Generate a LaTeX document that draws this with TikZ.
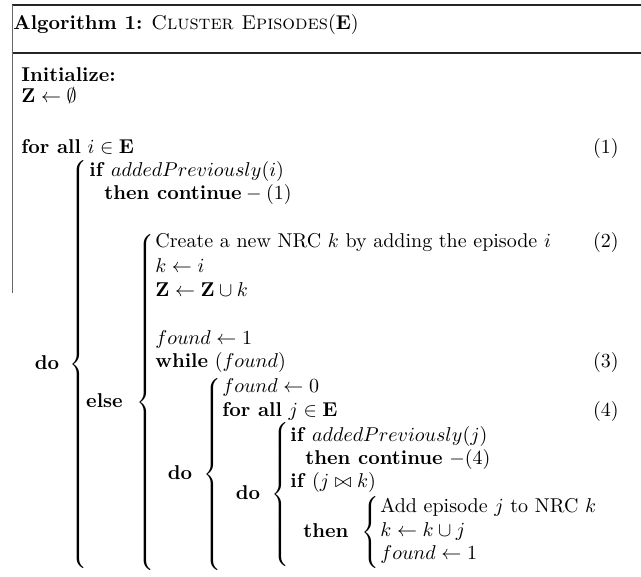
\documentclass[tikz,border=0pt]{standalone}
\delimiterfactor=1000
\delimitershortfall=0pt
\newcommand{\bigbrace}[1]{$\left\{\vcenter{\hbox{\rule{0pt}{#1pt}}}\right.$}
\tikzset{
  txt/.style={anchor=base west, inner sep=0pt},
  num/.style={anchor=base east, inner sep=0pt},
  lbl/.style={anchor=base, inner sep=0pt},
  brc/.style={anchor=east, inner sep=0pt},
  frame/.style={line width=1.6pt, draw=black!85},
  side/.style={line width=0.9pt, draw=black!60}
}
\begin{document}
\begin{tikzpicture}[x=1pt,y=-1pt]
\useasboundingbox (0,0) rectangle (641,577);
% frame lines
\coordinate (tl) at (12,5);
\coordinate (tr) at (641,5);
\coordinate (ml) at (12,53);
\coordinate (mr) at (641,53);
\coordinate (bl) at (12,293);
\draw[frame] (tl) -- (tr);
\draw[frame, line width=1.3pt] (ml) -- (mr);
\draw[side] (tl) -- (bl);
\begin{scope}[scale=2, x=0.5pt, y=-0.5pt, every node/.append style={transform shape}]
% header
\node[txt] (hdr) at (13,30) {\textbf{Algorithm 1:} \textsc{Cluster Episodes}($\mathbf{E}$)};
\node[txt] (init) at (21,82) {\textbf{Initialize:}};
\node[txt] (z0) at (21,103) {$\mathbf{Z}\leftarrow\emptyset$};
\node[txt] (fa) at (21,154) {\textbf{for all} $i\in\mathbf{E}$};
\node[num] (n1) at (619,154) {(1)};
% level 1
\node[brc] (b1) at (90,365) {\bigbrace{200}};
\node[lbl] (do1) at (47,370) {\textbf{do}};
\node[txt] (if1) at (89,177) {\textbf{if} $addedPreviously(i)$};
\node[txt] (th1) at (104,200) {$\mbox{\textbf{then continue}} - (1)$};
% level 2 (else)
\node[brc] (b2) at (157,402.5) {\bigbrace{163}};
\node[lbl] (else) at (104.5,407.5) {\textbf{else}};
\node[txt] (cr) at (155,248) {Create a new NRC $k$ by adding the episode $i$};
\node[num] (n2) at (619,248) {(2)};
\node[txt] (ki) at (155,273) {$k\leftarrow i$};
\node[txt] (zz) at (155,297) {$\mathbf{Z}\leftarrow\mathbf{Z}\cup k$};
\node[txt] (f1) at (155,345) {$found\leftarrow 1$};
\node[txt] (wh) at (155,368) {\textbf{while} $(found)$};
\node[num] (n3) at (619,368) {(3)};
% level 3 (while do)
\node[brc] (b3) at (224,474.5) {\bigbrace{91}};
\node[lbl] (do3) at (180,479.5) {\textbf{do}};
\node[txt] (f0) at (222,393) {$found\leftarrow 0$};
\node[txt] (faj) at (222,417) {\textbf{for all} $j\in\mathbf{E}$};
\node[num] (n4) at (619,417) {(4)};
% level 4 (for all j do)
\node[brc] (b4) at (292,495) {\bigbrace{71}};
\node[lbl] (do4) at (248,500) {\textbf{do}};
\node[txt] (if2) at (290,442) {\textbf{if} $addedPreviously(j)$};
\node[txt] (th2) at (305,465) {\textbf{then continue} $-(4)$};
\node[txt] (if3) at (290,488) {\textbf{if} $(j\bowtie k)$};
% level 5 (then)
\node[brc] (b5) at (382,532.5) {\bigbrace{33}};
\node[lbl] (th3) at (326,537.5) {\textbf{then}};
\node[txt] (add) at (380,513) {Add episode $j$ to NRC $k$};
\node[txt] (kk) at (380,537) {$k\leftarrow k\cup j$};
\node[txt] (f2) at (380,560) {$found\leftarrow 1$};
\end{scope}
\end{tikzpicture}
\end{document}
